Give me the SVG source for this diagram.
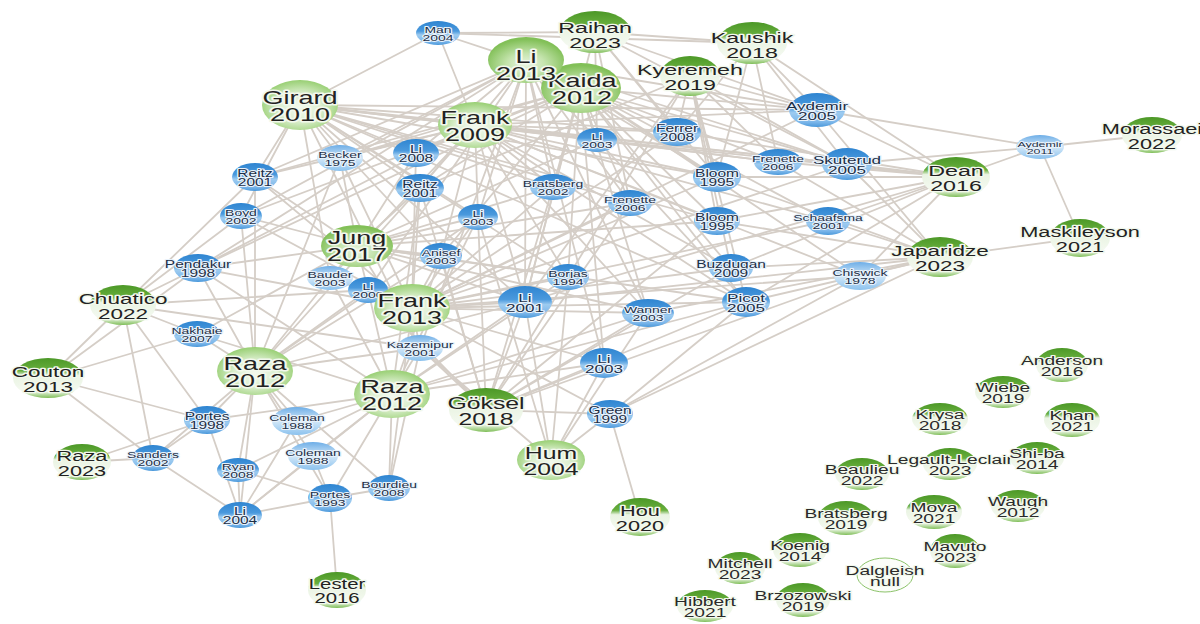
<svg xmlns="http://www.w3.org/2000/svg" width="1200" height="624" viewBox="0 0 1200 624">
<style>
.e line{stroke:#d5cec7;stroke-width:1.8;stroke-linecap:round}
text{font-family:"Liberation Sans",Arial,sans-serif;text-anchor:middle;paint-order:stroke;stroke-linejoin:round}
.tl{font-size:18px;fill:#222;stroke:#f2f8ec;stroke-width:3}
.tm{font-size:15px;fill:#222;stroke:#f2f8ec;stroke-width:2.6}
.ts{font-size:12px;fill:#2a2a2a;stroke:#f2f8ec;stroke-width:2.2}
.b11{font-size:11px;fill:#1d2f47;stroke:#e8f2fb;stroke-width:2}
.b10{font-size:10px;fill:#1d2f47;stroke:#e8f2fb;stroke-width:1.9}
.b9{font-size:9px;fill:#1d2f47;stroke:#e8f2fb;stroke-width:1.8}
.gb{fill:url(#gBig)}
.gs{fill:url(#gSat)}
.gc{fill:url(#gCap)}
.bb{fill:url(#bBlue)}
.bl{fill:url(#bLight)}
</style>
<defs>
<radialGradient id="gBig" cx="50%" cy="55%" r="55%"><stop offset="0" stop-color="#f3f9ee"/><stop offset="0.5" stop-color="#dcefcf"/><stop offset="1" stop-color="#98cf73"/></radialGradient>
<radialGradient id="gSat" cx="50%" cy="60%" r="55%"><stop offset="0" stop-color="#e9f5e0"/><stop offset="0.45" stop-color="#c5e4ae"/><stop offset="1" stop-color="#82c058"/></radialGradient>
<linearGradient id="gCap" x1="0" y1="0" x2="0" y2="1"><stop offset="0" stop-color="#4c9827"/><stop offset="0.32" stop-color="#67ae3d"/><stop offset="0.44" stop-color="#eaf4e3"/><stop offset="0.82" stop-color="#f4f9f0"/><stop offset="1" stop-color="#7fbe58"/></linearGradient>
<linearGradient id="bBlue" x1="0" y1="0" x2="0" y2="1"><stop offset="0" stop-color="#2f85d1"/><stop offset="0.42" stop-color="#4a99dd"/><stop offset="0.58" stop-color="#9dcbf0"/><stop offset="0.85" stop-color="#7db7ea"/><stop offset="1" stop-color="#4b99db"/></linearGradient>
<linearGradient id="bLight" x1="0" y1="0" x2="0" y2="1"><stop offset="0" stop-color="#6eaee7"/><stop offset="0.5" stop-color="#d3e8f8"/><stop offset="1" stop-color="#8cc2ee"/></linearGradient>
</defs>
<rect width="1200" height="624" fill="#fff"/>
<g id="connectors" class="e">
<line x1="300" y1="105" x2="438" y2="33"/><line x1="300" y1="105" x2="340" y2="158"/><line x1="300" y1="105" x2="416" y2="153"/><line x1="300" y1="105" x2="255" y2="177"/><line x1="300" y1="105" x2="420" y2="188"/><line x1="300" y1="105" x2="241" y2="216"/><line x1="300" y1="105" x2="478" y2="217"/><line x1="300" y1="105" x2="330" y2="278"/><line x1="300" y1="105" x2="441" y2="256"/><line x1="300" y1="105" x2="677" y2="132"/><line x1="300" y1="105" x2="553" y2="187"/><line x1="300" y1="105" x2="630" y2="203"/><line x1="300" y1="105" x2="717" y2="177"/><line x1="300" y1="105" x2="717" y2="221"/><line x1="300" y1="105" x2="817" y2="110"/><line x1="300" y1="105" x2="847" y2="164"/><line x1="300" y1="105" x2="525" y2="302"/><line x1="300" y1="105" x2="746" y2="302"/><line x1="300" y1="105" x2="597" y2="140"/><line x1="300" y1="105" x2="778" y2="162"/><line x1="300" y1="105" x2="568" y2="277"/><line x1="300" y1="105" x2="420" y2="348"/>
<line x1="475" y1="125" x2="438" y2="33"/><line x1="475" y1="125" x2="340" y2="158"/><line x1="475" y1="125" x2="416" y2="153"/><line x1="475" y1="125" x2="255" y2="177"/><line x1="475" y1="125" x2="420" y2="188"/><line x1="475" y1="125" x2="478" y2="217"/><line x1="475" y1="125" x2="597" y2="140"/><line x1="475" y1="125" x2="553" y2="187"/><line x1="475" y1="125" x2="677" y2="132"/><line x1="475" y1="125" x2="717" y2="177"/><line x1="475" y1="125" x2="717" y2="221"/><line x1="475" y1="125" x2="778" y2="162"/><line x1="475" y1="125" x2="817" y2="110"/><line x1="475" y1="125" x2="847" y2="164"/><line x1="475" y1="125" x2="828" y2="221"/><line x1="475" y1="125" x2="746" y2="302"/><line x1="475" y1="125" x2="525" y2="302"/><line x1="475" y1="125" x2="568" y2="277"/><line x1="475" y1="125" x2="731" y2="268"/><line x1="475" y1="125" x2="860" y2="276"/><line x1="475" y1="125" x2="441" y2="256"/><line x1="475" y1="125" x2="330" y2="278"/><line x1="475" y1="125" x2="648" y2="313"/><line x1="475" y1="125" x2="198" y2="268"/>
<line x1="526" y1="62" x2="438" y2="33"/><line x1="526" y1="62" x2="416" y2="153"/><line x1="526" y1="62" x2="420" y2="188"/><line x1="526" y1="62" x2="478" y2="217"/><line x1="526" y1="62" x2="597" y2="140"/><line x1="526" y1="62" x2="340" y2="158"/><line x1="526" y1="62" x2="198" y2="268"/><line x1="526" y1="62" x2="241" y2="216"/><line x1="526" y1="62" x2="553" y2="187"/><line x1="526" y1="62" x2="630" y2="203"/><line x1="526" y1="62" x2="717" y2="177"/><line x1="526" y1="62" x2="817" y2="110"/><line x1="526" y1="62" x2="847" y2="164"/><line x1="526" y1="62" x2="746" y2="302"/><line x1="526" y1="62" x2="525" y2="302"/><line x1="526" y1="62" x2="648" y2="313"/><line x1="526" y1="62" x2="604" y2="363"/><line x1="526" y1="62" x2="420" y2="348"/><line x1="526" y1="62" x2="368" y2="290"/><line x1="526" y1="62" x2="255" y2="177"/>
<line x1="580" y1="88" x2="597" y2="140"/><line x1="580" y1="88" x2="677" y2="132"/><line x1="580" y1="88" x2="717" y2="177"/><line x1="580" y1="88" x2="717" y2="221"/><line x1="580" y1="88" x2="630" y2="203"/><line x1="580" y1="88" x2="778" y2="162"/><line x1="580" y1="88" x2="847" y2="164"/><line x1="580" y1="88" x2="817" y2="110"/><line x1="580" y1="88" x2="828" y2="221"/><line x1="580" y1="88" x2="731" y2="268"/><line x1="580" y1="88" x2="746" y2="302"/><line x1="580" y1="88" x2="860" y2="276"/><line x1="580" y1="88" x2="525" y2="302"/><line x1="580" y1="88" x2="648" y2="313"/><line x1="580" y1="88" x2="604" y2="363"/><line x1="580" y1="88" x2="568" y2="277"/><line x1="580" y1="88" x2="420" y2="188"/><line x1="580" y1="88" x2="416" y2="153"/><line x1="580" y1="88" x2="340" y2="158"/><line x1="580" y1="88" x2="553" y2="187"/><line x1="580" y1="88" x2="441" y2="256"/><line x1="580" y1="88" x2="255" y2="177"/><line x1="580" y1="88" x2="241" y2="216"/><line x1="580" y1="88" x2="198" y2="268"/>
<line x1="595" y1="32" x2="752" y2="43"/><line x1="595" y1="32" x2="438" y2="33"/><line x1="595" y1="32" x2="817" y2="110"/><line x1="595" y1="32" x2="630" y2="203"/><line x1="595" y1="32" x2="597" y2="140"/><line x1="595" y1="32" x2="525" y2="302"/><line x1="595" y1="32" x2="717" y2="177"/><line x1="595" y1="32" x2="677" y2="132"/><line x1="595" y1="32" x2="847" y2="164"/>
<line x1="752" y1="43" x2="438" y2="33"/><line x1="752" y1="43" x2="817" y2="110"/><line x1="752" y1="43" x2="956" y2="177"/><line x1="752" y1="43" x2="847" y2="164"/><line x1="752" y1="43" x2="717" y2="177"/><line x1="752" y1="43" x2="677" y2="132"/><line x1="752" y1="43" x2="778" y2="162"/>
<line x1="690" y1="76" x2="817" y2="110"/><line x1="690" y1="76" x2="677" y2="132"/><line x1="690" y1="76" x2="717" y2="177"/><line x1="690" y1="76" x2="717" y2="221"/><line x1="690" y1="76" x2="525" y2="302"/><line x1="690" y1="76" x2="746" y2="302"/><line x1="690" y1="76" x2="778" y2="162"/><line x1="690" y1="76" x2="847" y2="164"/><line x1="690" y1="76" x2="731" y2="268"/><line x1="690" y1="76" x2="568" y2="277"/><line x1="690" y1="76" x2="420" y2="188"/>
<line x1="956" y1="177" x2="817" y2="110"/><line x1="956" y1="177" x2="847" y2="164"/><line x1="956" y1="177" x2="828" y2="221"/><line x1="956" y1="177" x2="860" y2="276"/><line x1="956" y1="177" x2="717" y2="177"/><line x1="956" y1="177" x2="717" y2="221"/><line x1="956" y1="177" x2="778" y2="162"/><line x1="956" y1="177" x2="677" y2="132"/><line x1="956" y1="177" x2="731" y2="268"/><line x1="956" y1="177" x2="746" y2="302"/><line x1="956" y1="177" x2="525" y2="302"/><line x1="956" y1="177" x2="1040" y2="147"/><line x1="956" y1="177" x2="597" y2="140"/>
<line x1="940" y1="257" x2="1080" y2="238"/><line x1="940" y1="257" x2="860" y2="276"/><line x1="940" y1="257" x2="828" y2="221"/><line x1="940" y1="257" x2="847" y2="164"/><line x1="940" y1="257" x2="746" y2="302"/><line x1="940" y1="257" x2="731" y2="268"/><line x1="940" y1="257" x2="717" y2="221"/><line x1="940" y1="257" x2="817" y2="110"/><line x1="940" y1="257" x2="778" y2="162"/><line x1="940" y1="257" x2="648" y2="313"/><line x1="940" y1="257" x2="525" y2="302"/><line x1="940" y1="257" x2="610" y2="414"/><line x1="940" y1="257" x2="717" y2="177"/>
<line x1="1040" y1="147" x2="1152" y2="135"/><line x1="1040" y1="147" x2="1080" y2="238"/><line x1="1040" y1="147" x2="817" y2="110"/><line x1="1040" y1="147" x2="847" y2="164"/>
<line x1="357" y1="246" x2="255" y2="177"/><line x1="357" y1="246" x2="340" y2="158"/><line x1="357" y1="246" x2="416" y2="153"/><line x1="357" y1="246" x2="420" y2="188"/><line x1="357" y1="246" x2="241" y2="216"/><line x1="357" y1="246" x2="198" y2="268"/><line x1="357" y1="246" x2="330" y2="278"/><line x1="357" y1="246" x2="368" y2="290"/><line x1="357" y1="246" x2="441" y2="256"/><line x1="357" y1="246" x2="478" y2="217"/><line x1="357" y1="246" x2="553" y2="187"/><line x1="357" y1="246" x2="525" y2="302"/><line x1="357" y1="246" x2="568" y2="277"/><line x1="357" y1="246" x2="420" y2="348"/><line x1="357" y1="246" x2="197" y2="334"/><line x1="357" y1="246" x2="630" y2="203"/><line x1="357" y1="246" x2="717" y2="221"/><line x1="357" y1="246" x2="746" y2="302"/><line x1="357" y1="246" x2="648" y2="313"/><line x1="357" y1="246" x2="597" y2="140"/>
<line x1="412" y1="308" x2="255" y2="177"/><line x1="412" y1="308" x2="420" y2="188"/><line x1="412" y1="308" x2="340" y2="158"/><line x1="412" y1="308" x2="416" y2="153"/><line x1="412" y1="308" x2="241" y2="216"/><line x1="412" y1="308" x2="198" y2="268"/><line x1="412" y1="308" x2="330" y2="278"/><line x1="412" y1="308" x2="368" y2="290"/><line x1="412" y1="308" x2="441" y2="256"/><line x1="412" y1="308" x2="478" y2="217"/><line x1="412" y1="308" x2="553" y2="187"/><line x1="412" y1="308" x2="568" y2="277"/><line x1="412" y1="308" x2="525" y2="302"/><line x1="412" y1="308" x2="648" y2="313"/><line x1="412" y1="308" x2="746" y2="302"/><line x1="412" y1="308" x2="731" y2="268"/><line x1="412" y1="308" x2="828" y2="221"/><line x1="412" y1="308" x2="860" y2="276"/><line x1="412" y1="308" x2="604" y2="363"/><line x1="412" y1="308" x2="610" y2="414"/><line x1="412" y1="308" x2="420" y2="348"/><line x1="412" y1="308" x2="717" y2="177"/><line x1="412" y1="308" x2="630" y2="203"/><line x1="412" y1="308" x2="817" y2="110"/><line x1="412" y1="308" x2="847" y2="164"/><line x1="412" y1="308" x2="677" y2="132"/><line x1="412" y1="308" x2="389" y2="488"/>
<line x1="255" y1="371" x2="198" y2="268"/><line x1="255" y1="371" x2="197" y2="334"/><line x1="255" y1="371" x2="207" y2="420"/><line x1="255" y1="371" x2="297" y2="421"/><line x1="255" y1="371" x2="313" y2="456"/><line x1="255" y1="371" x2="238" y2="470"/><line x1="255" y1="371" x2="240" y2="515"/><line x1="255" y1="371" x2="330" y2="498"/><line x1="255" y1="371" x2="153" y2="458"/><line x1="255" y1="371" x2="255" y2="177"/><line x1="255" y1="371" x2="241" y2="216"/><line x1="255" y1="371" x2="340" y2="158"/><line x1="255" y1="371" x2="330" y2="278"/><line x1="255" y1="371" x2="368" y2="290"/><line x1="255" y1="371" x2="420" y2="348"/><line x1="255" y1="371" x2="525" y2="302"/><line x1="255" y1="371" x2="478" y2="217"/><line x1="255" y1="371" x2="441" y2="256"/><line x1="255" y1="371" x2="389" y2="488"/><line x1="255" y1="371" x2="420" y2="188"/>
<line x1="392" y1="394" x2="420" y2="348"/><line x1="392" y1="394" x2="368" y2="290"/><line x1="392" y1="394" x2="330" y2="278"/><line x1="392" y1="394" x2="297" y2="421"/><line x1="392" y1="394" x2="313" y2="456"/><line x1="392" y1="394" x2="330" y2="498"/><line x1="392" y1="394" x2="389" y2="488"/><line x1="392" y1="394" x2="207" y2="420"/><line x1="392" y1="394" x2="238" y2="470"/><line x1="392" y1="394" x2="240" y2="515"/><line x1="392" y1="394" x2="525" y2="302"/><line x1="392" y1="394" x2="568" y2="277"/><line x1="392" y1="394" x2="604" y2="363"/><line x1="392" y1="394" x2="441" y2="256"/><line x1="392" y1="394" x2="648" y2="313"/><line x1="392" y1="394" x2="478" y2="217"/><line x1="392" y1="394" x2="746" y2="302"/><line x1="392" y1="394" x2="420" y2="188"/><line x1="392" y1="394" x2="197" y2="334"/><line x1="392" y1="394" x2="198" y2="268"/>
<line x1="486" y1="410" x2="525" y2="302"/><line x1="486" y1="410" x2="604" y2="363"/><line x1="486" y1="410" x2="568" y2="277"/><line x1="486" y1="410" x2="648" y2="313"/><line x1="486" y1="410" x2="746" y2="302"/><line x1="486" y1="410" x2="731" y2="268"/><line x1="486" y1="410" x2="860" y2="276"/><line x1="486" y1="410" x2="420" y2="348"/><line x1="486" y1="410" x2="441" y2="256"/><line x1="486" y1="410" x2="478" y2="217"/><line x1="486" y1="410" x2="630" y2="203"/><line x1="486" y1="410" x2="717" y2="221"/><line x1="486" y1="410" x2="420" y2="188"/><line x1="486" y1="410" x2="610" y2="414"/><line x1="486" y1="410" x2="368" y2="290"/><line x1="486" y1="410" x2="553" y2="187"/>
<line x1="551" y1="460" x2="610" y2="414"/><line x1="551" y1="460" x2="604" y2="363"/><line x1="551" y1="460" x2="525" y2="302"/><line x1="551" y1="460" x2="568" y2="277"/><line x1="551" y1="460" x2="648" y2="313"/><line x1="551" y1="460" x2="478" y2="217"/><line x1="551" y1="460" x2="420" y2="348"/>
<line x1="123" y1="305" x2="198" y2="268"/><line x1="123" y1="305" x2="197" y2="334"/><line x1="123" y1="305" x2="207" y2="420"/><line x1="123" y1="305" x2="153" y2="458"/><line x1="123" y1="305" x2="48" y2="378"/><line x1="123" y1="305" x2="255" y2="177"/><line x1="123" y1="305" x2="241" y2="216"/><line x1="123" y1="305" x2="368" y2="290"/><line x1="123" y1="305" x2="420" y2="348"/>
<line x1="48" y1="378" x2="197" y2="334"/><line x1="48" y1="378" x2="153" y2="458"/><line x1="48" y1="378" x2="198" y2="268"/><line x1="48" y1="378" x2="207" y2="420"/>
<line x1="82" y1="462" x2="153" y2="458"/><line x1="82" y1="462" x2="207" y2="420"/>
<line x1="337" y1="590" x2="330" y2="498"/><line x1="640" y1="517" x2="610" y2="414"/>
<line x1="153" y1="458" x2="240" y2="515"/><line x1="153" y1="458" x2="207" y2="420"/>
<line x1="240" y1="515" x2="330" y2="498"/><line x1="240" y1="515" x2="238" y2="470"/><line x1="240" y1="515" x2="207" y2="420"/><line x1="240" y1="515" x2="297" y2="421"/><line x1="240" y1="515" x2="313" y2="456"/>
<line x1="330" y1="498" x2="389" y2="488"/><line x1="330" y1="498" x2="313" y2="456"/><line x1="330" y1="498" x2="238" y2="470"/>
<line x1="610" y1="414" x2="746" y2="302"/><line x1="610" y1="414" x2="860" y2="276"/><line x1="420" y1="348" x2="389" y2="488"/>
</g>
<g id="nodes-cited">
<g id="n-man"><ellipse class="bb" cx="438" cy="33" rx="22" ry="12"/><text class="b9" transform="translate(438 33) scale(1.55 1)"><tspan x="0" y="-0.5">Man</tspan><tspan x="0" y="8.5">2004</tspan></text></g>
<g id="n-becker"><ellipse class="bl" cx="340" cy="158" rx="23" ry="13"/><text class="b9" transform="translate(340 158) scale(1.55 1)"><tspan x="0" y="-0.5">Becker</tspan><tspan x="0" y="8.5">1975</tspan></text></g>
<g id="n-li08"><ellipse class="bb" cx="416" cy="153" rx="23" ry="14"/><text class="b10" transform="translate(416 153) scale(1.55 1)"><tspan x="0" y="-0.5">Li</tspan><tspan x="0" y="9.5">2008</tspan></text></g>
<g id="n-reitzA"><ellipse class="bb" cx="255" cy="177" rx="23" ry="14"/><text class="b10" transform="translate(255 177) scale(1.55 1)"><tspan x="0" y="-0.5">Reitz</tspan><tspan x="0" y="9.5">2001</tspan></text></g>
<g id="n-reitzB"><ellipse class="bb" cx="420" cy="188" rx="24" ry="14"/><text class="b10" transform="translate(420 188) scale(1.55 1)"><tspan x="0" y="-0.5">Reitz</tspan><tspan x="0" y="9.5">2001</tspan></text></g>
<g id="n-boyd"><ellipse class="bb" cx="241" cy="216" rx="21" ry="13"/><text class="b9" transform="translate(241 216) scale(1.55 1)"><tspan x="0" y="-0.5">Boyd</tspan><tspan x="0" y="8.5">2002</tspan></text></g>
<g id="n-li03a"><ellipse class="bb" cx="478" cy="217" rx="20" ry="13"/><text class="b9" transform="translate(478 217) scale(1.55 1)"><tspan x="0" y="-0.5">Li</tspan><tspan x="0" y="8.5">2003</tspan></text></g>
<g id="n-li03b"><ellipse class="bb" cx="597" cy="140" rx="20" ry="12"/><text class="b9" transform="translate(597 140) scale(1.55 1)"><tspan x="0" y="-0.5">Li</tspan><tspan x="0" y="8.5">2003</tspan></text></g>
<g id="n-anisef"><ellipse class="bb" cx="441" cy="256" rx="21" ry="13"/><text class="b9" transform="translate(441 256) scale(1.55 1)"><tspan x="0" y="-0.5">Anisef</tspan><tspan x="0" y="8.5">2003</tspan></text></g>
<g id="n-pendakur"><ellipse class="bb" cx="198" cy="268" rx="24" ry="14"/><text class="b10" transform="translate(198 268) scale(1.55 1)"><tspan x="0" y="-0.5">Pendakur</tspan><tspan x="0" y="9.5">1998</tspan></text></g>
<g id="n-bauder"><ellipse class="bl" cx="330" cy="278" rx="23" ry="12"/><text class="b9" transform="translate(330 278) scale(1.55 1)"><tspan x="0" y="-0.5">Bauder</tspan><tspan x="0" y="8.5">2003</tspan></text></g>
<g id="n-li00"><ellipse class="bb" cx="368" cy="290" rx="20" ry="13"/><text class="b9" transform="translate(368 290) scale(1.55 1)"><tspan x="0" y="-0.5">Li</tspan><tspan x="0" y="8.5">2000</tspan></text></g>
<g id="n-ferrer"><ellipse class="bb" cx="677" cy="132" rx="24" ry="14"/><text class="b10" transform="translate(677 132) scale(1.55 1)"><tspan x="0" y="-0.5">Ferrer</tspan><tspan x="0" y="9.5">2008</tspan></text></g>
<g id="n-brats02"><ellipse class="bb" cx="553" cy="187" rx="23" ry="13"/><text class="b9" transform="translate(553 187) scale(1.55 1)"><tspan x="0" y="-0.5">Bratsberg</tspan><tspan x="0" y="8.5">2002</tspan></text></g>
<g id="n-fren06a"><ellipse class="bb" cx="630" cy="203" rx="22" ry="13"/><text class="b9" transform="translate(630 203) scale(1.55 1)"><tspan x="0" y="-0.5">Frenette</tspan><tspan x="0" y="8.5">2006</tspan></text></g>
<g id="n-bloomA"><ellipse class="bb" cx="717" cy="177" rx="24" ry="15"/><text class="b10" transform="translate(717 177) scale(1.55 1)"><tspan x="0" y="-0.5">Bloom</tspan><tspan x="0" y="9.5">1995</tspan></text></g>
<g id="n-bloomB"><ellipse class="bb" cx="717" cy="221" rx="23" ry="14"/><text class="b10" transform="translate(717 221) scale(1.55 1)"><tspan x="0" y="-0.5">Bloom</tspan><tspan x="0" y="9.5">1995</tspan></text></g>
<g id="n-fren06b"><ellipse class="bb" cx="778" cy="162" rx="24" ry="13"/><text class="b9" transform="translate(778 162) scale(1.55 1)"><tspan x="0" y="-0.5">Frenette</tspan><tspan x="0" y="8.5">2006</tspan></text></g>
<g id="n-skuterud"><ellipse class="bb" cx="847" cy="164" rx="25" ry="16"/><text class="b11" transform="translate(847 164) scale(1.55 1)"><tspan x="0" y="-0.5">Skuterud</tspan><tspan x="0" y="10.5">2005</tspan></text></g>
<g id="n-schaafsma"><ellipse class="bb" cx="828" cy="221" rx="22" ry="14"/><text class="b9" transform="translate(828 221) scale(1.55 1)"><tspan x="0" y="-0.5">Schaafsma</tspan><tspan x="0" y="8.5">2001</tspan></text></g>
<g id="n-buzdugan"><ellipse class="bb" cx="731" cy="268" rx="22" ry="14"/><text class="b10" transform="translate(731 268) scale(1.55 1)"><tspan x="0" y="-0.5">Buzdugan</tspan><tspan x="0" y="9.5">2009</tspan></text></g>
<g id="n-picot"><ellipse class="bb" cx="746" cy="302" rx="24" ry="15"/><text class="b11" transform="translate(746 302) scale(1.55 1)"><tspan x="0" y="-0.5">Picot</tspan><tspan x="0" y="10.5">2005</tspan></text></g>
<g id="n-chiswick"><ellipse class="bl" cx="860" cy="276" rx="26" ry="14"/><text class="b9" transform="translate(860 276) scale(1.55 1)"><tspan x="0" y="-0.5">Chiswick</tspan><tspan x="0" y="8.5">1978</tspan></text></g>
<g id="n-aydemir05"><ellipse class="bb" cx="817" cy="110" rx="28" ry="17"/><text class="b11" transform="translate(817 110) scale(1.55 1)"><tspan x="0" y="-0.5">Aydemir</tspan><tspan x="0" y="10.5">2005</tspan></text></g>
<g id="n-aydemir11"><ellipse class="bl" cx="1040" cy="147" rx="24" ry="12"/><text class="b9" transform="translate(1040 147) scale(1.55 1)" style="font-size:8px"><tspan x="0" y="-0.5">Aydemir</tspan><tspan x="0" y="7.5">2011</tspan></text></g>
<g id="n-borjas"><ellipse class="bb" cx="568" cy="277" rx="21" ry="13"/><text class="b9" transform="translate(568 277) scale(1.55 1)"><tspan x="0" y="-0.5">Borjas</tspan><tspan x="0" y="8.5">1994</tspan></text></g>
<g id="n-li01"><ellipse class="bb" cx="525" cy="302" rx="27" ry="16"/><text class="b11" transform="translate(525 302) scale(1.55 1)"><tspan x="0" y="-0.5">Li</tspan><tspan x="0" y="10.5">2001</tspan></text></g>
<g id="n-wanner"><ellipse class="bb" cx="648" cy="313" rx="26" ry="14"/><text class="b9" transform="translate(648 313) scale(1.55 1)"><tspan x="0" y="-0.5">Wanner</tspan><tspan x="0" y="8.5">2003</tspan></text></g>
<g id="n-li03c"><ellipse class="bb" cx="604" cy="363" rx="24" ry="15"/><text class="b11" transform="translate(604 363) scale(1.55 1)"><tspan x="0" y="-0.5">Li</tspan><tspan x="0" y="10.5">2003</tspan></text></g>
<g id="n-green99"><ellipse class="bb" cx="610" cy="414" rx="23" ry="14"/><text class="b10" transform="translate(610 414) scale(1.55 1)"><tspan x="0" y="-0.5">Green</tspan><tspan x="0" y="9.5">1999</tspan></text></g>
<g id="n-kazemipur"><ellipse class="bl" cx="420" cy="348" rx="23" ry="13"/><text class="b9" transform="translate(420 348) scale(1.55 1)"><tspan x="0" y="-0.5">Kazemipur</tspan><tspan x="0" y="8.5">2001</tspan></text></g>
<g id="n-nakhaie"><ellipse class="bb" cx="197" cy="334" rx="23" ry="13"/><text class="b9" transform="translate(197 334) scale(1.55 1)"><tspan x="0" y="-0.5">Nakhaie</tspan><tspan x="0" y="8.5">2007</tspan></text></g>
<g id="n-portes98"><ellipse class="bb" cx="207" cy="420" rx="23" ry="14"/><text class="b10" transform="translate(207 420) scale(1.55 1)"><tspan x="0" y="-0.5">Portes</tspan><tspan x="0" y="9.5">1998</tspan></text></g>
<g id="n-sanders"><ellipse class="bb" cx="153" cy="458" rx="21" ry="13"/><text class="b9" transform="translate(153 458) scale(1.55 1)"><tspan x="0" y="-0.5">Sanders</tspan><tspan x="0" y="8.5">2002</tspan></text></g>
<g id="n-ryan"><ellipse class="bb" cx="238" cy="470" rx="21" ry="12"/><text class="b9" transform="translate(238 470) scale(1.55 1)"><tspan x="0" y="-0.5">Ryan</tspan><tspan x="0" y="8.5">2008</tspan></text></g>
<g id="n-colemanA"><ellipse class="bl" cx="297" cy="421" rx="25" ry="14"/><text class="b9" transform="translate(297 421) scale(1.55 1)"><tspan x="0" y="-0.5">Coleman</tspan><tspan x="0" y="8.5">1988</tspan></text></g>
<g id="n-colemanB"><ellipse class="bl" cx="313" cy="456" rx="25" ry="14"/><text class="b9" transform="translate(313 456) scale(1.55 1)"><tspan x="0" y="-0.5">Coleman</tspan><tspan x="0" y="8.5">1988</tspan></text></g>
<g id="n-li04"><ellipse class="bb" cx="240" cy="515" rx="22" ry="13"/><text class="b10" transform="translate(240 515) scale(1.55 1)"><tspan x="0" y="-0.5">Li</tspan><tspan x="0" y="9.5">2004</tspan></text></g>
<g id="n-portes93"><ellipse class="bb" cx="330" cy="498" rx="22" ry="14"/><text class="b9" transform="translate(330 498) scale(1.55 1)"><tspan x="0" y="-0.5">Portes</tspan><tspan x="0" y="8.5">1993</tspan></text></g>
<g id="n-bourdieu"><ellipse class="bb" cx="389" cy="488" rx="21" ry="13"/><text class="b9" transform="translate(389 488) scale(1.55 1)"><tspan x="0" y="-0.5">Bourdieu</tspan><tspan x="0" y="8.5">2008</tspan></text></g>
</g>
<g id="nodes-citing">
<g id="n-girard"><ellipse class="gb" cx="300" cy="105" rx="38" ry="25"/><text class="tl" transform="translate(300 105) scale(1.5 1)"><tspan x="0" y="-1.5">Girard</tspan><tspan x="0" y="16">2010</tspan></text></g>
<g id="n-frank09"><ellipse class="gb" cx="475" cy="125" rx="37" ry="23"/><text class="tl" transform="translate(475 125) scale(1.5 1)"><tspan x="0" y="-1.5">Frank</tspan><tspan x="0" y="16">2009</tspan></text></g>
<g id="n-kaida"><ellipse class="gs" cx="581" cy="88" rx="40" ry="25"/><text class="tl" transform="translate(582 88) scale(1.5 1)"><tspan x="0" y="-1.5">Kaida</tspan><tspan x="0" y="16">2012</tspan></text></g>
<g id="n-li13"><ellipse class="gs" cx="526" cy="60" rx="38" ry="23"/><text class="tl" transform="translate(526 64) scale(1.5 1)"><tspan x="0" y="-1.5">Li</tspan><tspan x="0" y="16">2013</tspan></text></g>
<g id="n-raihan"><ellipse class="gc" cx="595" cy="32" rx="36" ry="21"/><text class="tm" transform="translate(595 32) scale(1.55 1)"><tspan x="0" y="1">Raihan</tspan><tspan x="0" y="16">2023</tspan></text></g>
<g id="n-kaushik"><ellipse class="gc" cx="752" cy="43" rx="35" ry="21"/><text class="tm" transform="translate(752 43) scale(1.55 1)"><tspan x="0" y="0">Kaushik</tspan><tspan x="0" y="15">2018</tspan></text></g>
<g id="n-kyeremeh"><ellipse class="gc" cx="690" cy="76" rx="30" ry="20"/><text class="tm" transform="translate(690 76) scale(1.55 1)"><tspan x="0" y="-1">Kyeremeh</tspan><tspan x="0" y="14">2019</tspan></text></g>
<g id="n-morassaei"><ellipse class="gc" cx="1152" cy="135" rx="30" ry="18"/><text class="tm" transform="translate(1152 135) scale(1.45 1)"><tspan x="0" y="-1">Morassaei</tspan><tspan x="0" y="14">2022</tspan></text></g>
<g id="n-dean"><ellipse class="gc" cx="956" cy="177" rx="34" ry="20"/><text class="tm" transform="translate(956 177) scale(1.55 1)"><tspan x="0" y="-1">Dean</tspan><tspan x="0" y="14.5">2016</tspan></text></g>
<g id="n-maskileyson"><ellipse class="gc" cx="1080" cy="238" rx="30" ry="19"/><text class="tm" transform="translate(1080 238) scale(1.45 1)"><tspan x="0" y="-1">Maskileyson</tspan><tspan x="0" y="14">2021</tspan></text></g>
<g id="n-japaridze"><ellipse class="gc" cx="940" cy="257" rx="33" ry="20"/><text class="tm" transform="translate(940 257) scale(1.5 1)"><tspan x="0" y="-1">Japaridze</tspan><tspan x="0" y="14">2023</tspan></text></g>
<g id="n-jung"><ellipse class="gs" cx="357" cy="246" rx="36" ry="21"/><text class="tl" transform="translate(357 246) scale(1.5 1)"><tspan x="0" y="-2">Jung</tspan><tspan x="0" y="15">2017</tspan></text></g>
<g id="n-frank13"><ellipse class="gb" cx="412" cy="308" rx="38" ry="24"/><text class="tl" transform="translate(412 308) scale(1.5 1)"><tspan x="0" y="-1.5">Frank</tspan><tspan x="0" y="16">2013</tspan></text></g>
<g id="n-chuatico"><ellipse class="gc" cx="123" cy="305" rx="33" ry="20"/><text class="tm" transform="translate(123 305) scale(1.5 1)"><tspan x="0" y="-1">Chuatico</tspan><tspan x="0" y="14">2022</tspan></text></g>
<g id="n-couton"><ellipse class="gc" cx="48" cy="378" rx="35" ry="20"/><text class="tm" transform="translate(48 378) scale(1.5 1)"><tspan x="0" y="-1">Couton</tspan><tspan x="0" y="14">2013</tspan></text></g>
<g id="n-raza12a"><ellipse class="gb" cx="255" cy="371" rx="38" ry="24"/><text class="tl" transform="translate(255 371) scale(1.5 1)"><tspan x="0" y="-1.5">Raza</tspan><tspan x="0" y="16">2012</tspan></text></g>
<g id="n-raza12b"><ellipse class="gb" cx="392" cy="394" rx="38" ry="24"/><text class="tl" transform="translate(392 394) scale(1.5 1)"><tspan x="0" y="-1.5">Raza</tspan><tspan x="0" y="16">2012</tspan></text></g>
<g id="n-goksel"><ellipse class="gc" cx="486" cy="410" rx="37" ry="22"/><text class="tm" transform="translate(486 410) scale(1.55 1)" style="font-size:16px"><tspan x="0" y="-1">Göksel</tspan><tspan x="0" y="15">2018</tspan></text></g>
<g id="n-hum"><ellipse class="gb" cx="551" cy="460" rx="34" ry="20"/><text class="tm" transform="translate(551 460) scale(1.55 1)" style="font-size:16px"><tspan x="0" y="-1">Hum</tspan><tspan x="0" y="15">2004</tspan></text></g>
<g id="n-raza23"><ellipse class="gc" cx="82" cy="462" rx="29" ry="18"/><text class="tm" transform="translate(82 462) scale(1.45 1)"><tspan x="0" y="-1">Raza</tspan><tspan x="0" y="14">2023</tspan></text></g>
<g id="n-lester"><ellipse class="gc" cx="337" cy="590" rx="29" ry="18"/><text class="tm" transform="translate(337 590) scale(1.45 1)" style="font-size:14px"><tspan x="0" y="-1">Lester</tspan><tspan x="0" y="13">2016</tspan></text></g>
<g id="n-hou"><ellipse class="gc" cx="640" cy="517" rx="30" ry="19"/><text class="tm" transform="translate(640 517) scale(1.45 1)"><tspan x="0" y="-1">Hou</tspan><tspan x="0" y="14">2020</tspan></text></g>
</g>
<g id="nodes-isolated">
<g id="n-anderson"><ellipse class="gc" cx="1062" cy="365" rx="26" ry="17"/><text class="ts" transform="translate(1062 365) scale(1.6 1)"><tspan x="0" y="-0.5">Anderson</tspan><tspan x="0" y="11.5">2016</tspan></text></g>
<g id="n-wiebe"><ellipse class="gc" cx="1003" cy="392" rx="28" ry="16"/><text class="ts" transform="translate(1003 392) scale(1.6 1)"><tspan x="0" y="-0.5">Wiebe</tspan><tspan x="0" y="11.5">2019</tspan></text></g>
<g id="n-krysa"><ellipse class="gc" cx="940" cy="419" rx="28" ry="16"/><text class="ts" transform="translate(940 419) scale(1.6 1)"><tspan x="0" y="-0.5">Krysa</tspan><tspan x="0" y="11.5">2018</tspan></text></g>
<g id="n-khan"><ellipse class="gc" cx="1072" cy="420" rx="28" ry="17"/><text class="ts" transform="translate(1072 420) scale(1.6 1)"><tspan x="0" y="-0.5">Khan</tspan><tspan x="0" y="11.5">2021</tspan></text></g>
<g id="n-legault"><ellipse class="gc" cx="950" cy="464" rx="27" ry="16"/><text class="ts" transform="translate(950 464) scale(1.6 1)"><tspan x="0" y="-0.5">Legault-Leclair</tspan><tspan x="0" y="11.5">2023</tspan></text></g>
<g id="n-shiba"><ellipse class="gc" cx="1037" cy="458" rx="27" ry="16"/><text class="ts" transform="translate(1037 458) scale(1.6 1)"><tspan x="0" y="-0.5">Shi-ba</tspan><tspan x="0" y="11.5">2014</tspan></text></g>
<g id="n-beaulieu"><ellipse class="gc" cx="862" cy="474" rx="27" ry="16"/><text class="ts" transform="translate(862 474) scale(1.6 1)"><tspan x="0" y="-0.5">Beaulieu</tspan><tspan x="0" y="11.5">2022</tspan></text></g>
<g id="n-waugh"><ellipse class="gc" cx="1018" cy="506" rx="27" ry="16"/><text class="ts" transform="translate(1018 506) scale(1.6 1)"><tspan x="0" y="-0.5">Waugh</tspan><tspan x="0" y="11.5">2012</tspan></text></g>
<g id="n-bratsberg19"><ellipse class="gc" cx="846" cy="518" rx="28" ry="17"/><text class="ts" transform="translate(846 518) scale(1.6 1)"><tspan x="0" y="-0.5">Bratsberg</tspan><tspan x="0" y="11.5">2019</tspan></text></g>
<g id="n-mova"><ellipse class="gc" cx="934" cy="512" rx="28" ry="17"/><text class="ts" transform="translate(934 512) scale(1.6 1)"><tspan x="0" y="-0.5">Mova</tspan><tspan x="0" y="11.5">2021</tspan></text></g>
<g id="n-mavuto"><ellipse class="gc" cx="955" cy="551" rx="25" ry="17"/><text class="ts" transform="translate(955 551) scale(1.6 1)"><tspan x="0" y="-0.5">Mavuto</tspan><tspan x="0" y="11.5">2023</tspan></text></g>
<g id="n-koenig"><ellipse class="gc" cx="800" cy="550" rx="27" ry="17"/><text class="ts" transform="translate(800 550) scale(1.6 1)"><tspan x="0" y="-0.5">Koenig</tspan><tspan x="0" y="11.5">2014</tspan></text></g>
<g id="n-mitchell"><ellipse class="gc" cx="740" cy="568" rx="25" ry="16"/><text class="ts" transform="translate(740 568) scale(1.6 1)"><tspan x="0" y="-0.5">Mitchell</tspan><tspan x="0" y="11.5">2023</tspan></text></g>
<g id="n-dalgleish"><ellipse cx="885" cy="575" rx="28" ry="17" fill="#fbfdf9" stroke="#8cc36a" stroke-width="1"/><text class="ts" transform="translate(885 575) scale(1.6 1)"><tspan x="0" y="-0.5">Dalgleish</tspan><tspan x="0" y="11.5">null</tspan></text></g>
<g id="n-hibbert"><ellipse class="gc" cx="705" cy="606" rx="28" ry="16"/><text class="ts" transform="translate(705 606) scale(1.6 1)"><tspan x="0" y="-0.5">Hibbert</tspan><tspan x="0" y="11.5">2021</tspan></text></g>
<g id="n-brzozowski"><ellipse class="gc" cx="803" cy="600" rx="27" ry="17"/><text class="ts" transform="translate(803 600) scale(1.6 1)"><tspan x="0" y="-0.5">Brzozowski</tspan><tspan x="0" y="11.5">2019</tspan></text></g>
</g>
</svg>
